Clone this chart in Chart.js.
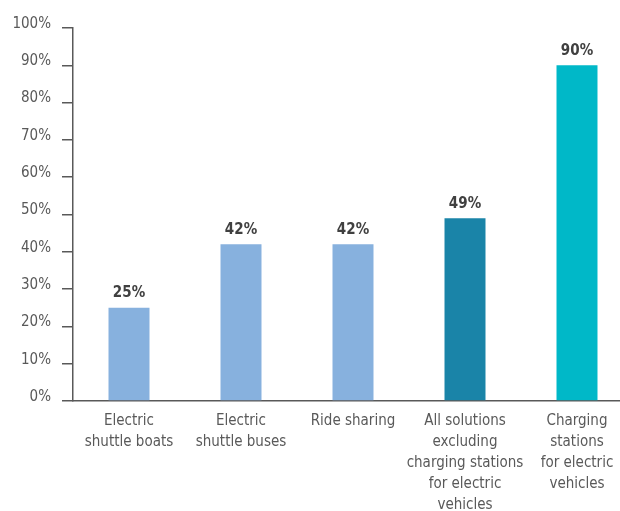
<!DOCTYPE html>
<html><head><meta charset="utf-8">
<script src="https://cdn.jsdelivr.net/npm/chart.js@4/dist/chart.umd.min.js"></script>
<style>html,body{margin:0;padding:0;overflow:hidden;background:#fff}#wrap{width:640px;height:511px}</style>
</head><body><div id="wrap"><canvas id="c" width="640" height="511"></canvas></div>
<script>
const categories = [
  ["Electric","shuttle boats"],
  ["Electric","shuttle buses"],
  ["Ride sharing"],
  ["All solutions","excluding","charging stations","for electric","vehicles"],
  ["Charging","stations","for electric","vehicles"]
];
const values = [25, 42, 42, 49, 90];
const barColors = ["#87B1DE","#87B1DE","#87B1DE","#1A84A8","#00B8C8"];
const yTicks = [0,10,20,30,40,50,60,70,80,90,100];

const FONT = "'DejaVu Sans Condensed','Liberation Sans Narrow',sans-serif";

const labelPlugin = {
  id:'vlabels',
  afterDatasetsDraw(chart){
    const ctx = chart.ctx;
    const meta = chart.getDatasetMeta(0);
    ctx.save();
    ctx.font = "bold 15px " + FONT;
    ctx.fillStyle = "#404040";
    ctx.textAlign = "center";
    ctx.textBaseline = "bottom";
    meta.data.forEach((bar,i)=>{
      ctx.fillText(values[i] + "%", bar.x, bar.y - 7);
    });
    ctx.restore();
  }
};

new Chart(document.getElementById('c'), {
  type:'bar',
  data:{labels:categories, datasets:[{data:values, backgroundColor:barColors, barPercentage:0.366, categoryPercentage:1}]},
  options:{
    responsive:false, animation:false,
    layout:{padding:{top:28,right:7,left:0,bottom:0}},
    plugins:{legend:{display:false}, tooltip:{enabled:false}},
    scales:{
      x:{
        afterFit(axis){ axis.height = 110; },
        grid:{display:false, drawTicks:false},
        border:{display:true, color:"#595959", width:1.5},
        ticks:{color:"#595959", font:{family:FONT, size:15, lineHeight:1.4}, padding:10, maxRotation:0, autoSkip:false}
      },
      y:{
        min:0, max:100,
        afterBuildTicks(axis){ axis.ticks = yTicks.map(v=>({value:v})); },
        afterFit(axis){ axis.width = 73; },
        grid:{drawOnChartArea:false, drawTicks:true, tickLength:11, color:"#595959", lineWidth:1.5},
        border:{display:true, color:"#595959", width:1.5},
        ticks:{color:"#595959", font:{family:FONT, size:15}, padding:11, labelOffset:-4, callback:v=>v+"%"}
      }
    }
  },
  plugins:[labelPlugin]
});
</script></body></html>
